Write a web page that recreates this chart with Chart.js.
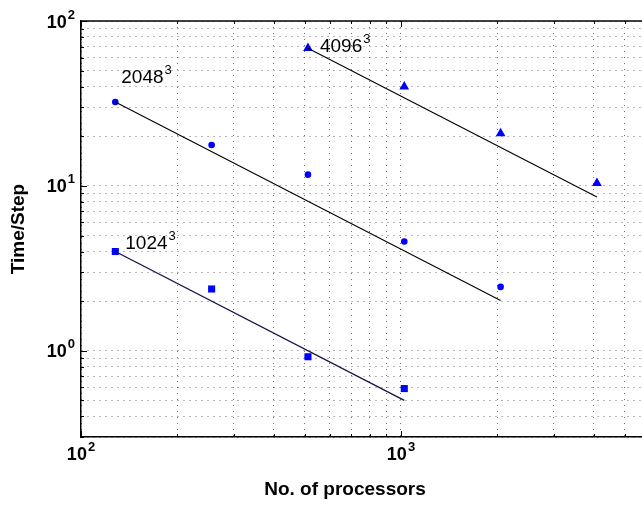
<!DOCTYPE html>
<html>
<head>
<meta charset="utf-8">
<script src="https://cdn.jsdelivr.net/npm/chart.js@4.4.1/dist/chart.umd.min.js"></script>
<style>
  html, body { margin: 0; padding: 0; background: #fff; }
  #wrap { width: 642px; height: 506px; position: relative; }
</style>
</head>
<body>
<div id="wrap"><canvas id="scaling"></canvas></div>
<script>
// processor counts per grid size
const PROCS_1024 = [128, 256, 512, 1024];
const PROCS_2048 = [128, 256, 512, 1024, 2048];
const PROCS_4096 = [512, 1024, 2048, 4096];

// measured time per step
const TIME_1024 = [4.0, 2.37, 0.92, 0.59];
const TIME_2048 = [32.3, 17.7, 11.7, 4.6, 2.44];
const TIME_4096 = [68.4, 40, 20.8, 10.4];

// ideal scaling lines (end points)
const FIT_PROCS_1024 = [128, 1024];
const FIT_TIME_1024 = [4.0, 0.5];
const FIT_PROCS_2048 = [128, 2048];
const FIT_TIME_2048 = [32.3, 2.02];
const FIT_PROCS_4096 = [512, 4096];
const FIT_TIME_4096 = [68.4, 8.55];

const GRID_NAMES = ['1024', '2048', '4096'];

const X_TICKS = [100, 1000];
const Y_TICKS = [1, 10, 100];
const X_MIN = 100, X_MAX = 5665;
const Y_MIN = 0.3, Y_MAX = 100;

const FONT = '"Liberation Sans", Arial, Helvetica, sans-serif';
const BLUE = '#0000ff';

function pts(xs, ys) {
    return xs.map((x, i) => ({ x: x, y: ys[i] }));
}

// 1..9 x 10^n between lo and hi, used for the dotted grid
function gridValues(lo, hi) {
    const out = [];
    for (let e = Math.floor(Math.log10(lo)); e <= Math.ceil(Math.log10(hi)); e++) {
        for (let m = 1; m <= 9; m++) {
            const v = m * Math.pow(10, e);
            if (v >= lo * 0.999 && v <= hi * 1.001) out.push(v);
        }
    }
    return out;
}

function supText(ctx, base, exp, x, y, align, baseFont, expFont, rise) {
    ctx.font = baseFont;
    const wb = ctx.measureText(base).width;
    ctx.font = expFont;
    const we = ctx.measureText(exp).width;
    let left = x;
    if (align === 'center') left = x - (wb + we + 1) / 2;
    else if (align === 'right') left = x - (wb + we + 1);
    ctx.textAlign = 'left';
    ctx.textBaseline = 'alphabetic';
    ctx.font = baseFont;
    ctx.fillText(base, left, y);
    ctx.font = expFont;
    ctx.fillText(exp, left + wb + 1, y - rise);
}

const decorations = {
    id: 'decorations',
    afterDraw(chart) {
        const ctx = chart.ctx;
        const xs = chart.scales.x, ys = chart.scales.y;
        const area = chart.chartArea;
        ctx.save();
        ctx.fillStyle = '#000';
        ctx.strokeStyle = '#000';

        // top frame line
        ctx.lineWidth = 1.5;
        ctx.beginPath();
        ctx.moveTo(area.left, area.top);
        ctx.lineTo(area.right, area.top);
        ctx.stroke();

        // inward tick marks
        ctx.lineWidth = 1;
        gridValues(X_MIN, X_MAX).forEach(v => {
            const px = Math.round(xs.getPixelForValue(v)) + 0.5;
            const len = X_TICKS.includes(v) ? 6 : 3;
            ctx.beginPath();
            ctx.moveTo(px, area.bottom); ctx.lineTo(px, area.bottom - len);
            ctx.moveTo(px, area.top); ctx.lineTo(px, area.top + len);
            ctx.stroke();
        });
        gridValues(Y_MIN, Y_MAX).forEach(v => {
            const py = Math.round(ys.getPixelForValue(v)) + 0.5;
            const len = Y_TICKS.includes(v) ? 6 : 3;
            ctx.beginPath();
            ctx.moveTo(area.left, py); ctx.lineTo(area.left + len, py);
            ctx.stroke();
        });

        // tick labels
        const tf = 'bold 18px ' + FONT, ef = 'bold 13px ' + FONT;
        X_TICKS.forEach(v => {
            supText(ctx, '10', String(Math.round(Math.log10(v))),
                xs.getPixelForValue(v), area.bottom + 23, 'center', tf, ef, 9);
        });
        Y_TICKS.forEach(v => {
            supText(ctx, '10', String(Math.round(Math.log10(v))),
                area.left - 6, ys.getPixelForValue(v) + 6.5, 'right', tf, ef, 9);
        });

        // axis titles
        ctx.font = 'bold 19px ' + FONT;
        ctx.textAlign = 'center';
        ctx.textBaseline = 'middle';
        ctx.fillText('No. of processors', 345, 490);
        ctx.save();
        ctx.translate(19, (area.top + area.bottom) / 2);
        ctx.rotate(-Math.PI / 2);
        ctx.fillText('Time/Step', 0, 0);
        ctx.restore();

        // grid-size annotations anchored on the first point of each series
        const af = '19px ' + FONT, aef = '13px ' + FONT;
        const anchors = [
            [PROCS_1024[0], TIME_1024[0], 10, -3],
            [PROCS_2048[0], TIME_2048[0], 6, -19],
            [PROCS_4096[0], TIME_4096[0], 12, 4]
        ];
        anchors.forEach((a, i) => {
            const px = xs.getPixelForValue(a[0]);
            const py = ys.getPixelForValue(a[1]);
            supText(ctx, GRID_NAMES[i], '3', px + a[2], py + a[3], 'left', af, aef, 9);
        });
        ctx.restore();
    }
};

const gridStyle = {
    color: 'rgba(0,0,0,0.55)',
    lineWidth: 1,
    drawTicks: false
};

new Chart(document.getElementById('scaling'), {
    type: 'scatter',
    data: {
        datasets: [
            { data: pts(FIT_PROCS_1024, FIT_TIME_1024), showLine: true, borderColor: '#14144a',
              borderWidth: 1.3, pointRadius: 0 },
            { data: pts(FIT_PROCS_2048, FIT_TIME_2048), showLine: true, borderColor: '#000',
              borderWidth: 1.1, pointRadius: 0 },
            { data: pts(FIT_PROCS_4096, FIT_TIME_4096), showLine: true, borderColor: '#000',
              borderWidth: 1.1, pointRadius: 0 },
            { data: pts(PROCS_1024, TIME_1024), pointStyle: 'rect', pointRadius: 5,
              backgroundColor: BLUE, borderColor: BLUE, borderWidth: 0 },
            { data: pts(PROCS_2048, TIME_2048), pointStyle: 'circle', pointRadius: 3.3,
              backgroundColor: BLUE, borderColor: BLUE, borderWidth: 0 },
            { data: pts(PROCS_4096, TIME_4096), pointStyle: 'triangle', pointRadius: 5.6,
              backgroundColor: BLUE, borderColor: BLUE, borderWidth: 0 }
        ]
    },
    options: {
        responsive: true,
        maintainAspectRatio: false,
        animation: false,
        layout: { autoPadding: false, padding: { left: 81, top: 21, right: 0, bottom: 69 } },
        plugins: {
            legend: { display: false },
            tooltip: { enabled: false }
        },
        scales: {
            x: {
                type: 'logarithmic',
                min: X_MIN,
                max: X_MAX,
                afterBuildTicks: s => { s.ticks = gridValues(X_MIN, X_MAX).map(v => ({ value: v })); },
                ticks: { display: false },
                grid: gridStyle,
                border: { display: true, color: '#000', width: 1.5, dash: [1, 5] }
            },
            y: {
                type: 'logarithmic',
                min: Y_MIN,
                max: Y_MAX,
                afterBuildTicks: s => { s.ticks = gridValues(Y_MIN, Y_MAX).map(v => ({ value: v })); },
                ticks: { display: false },
                grid: gridStyle,
                border: { display: true, color: '#000', width: 1.5, dash: [1, 5] }
            }
        }
    },
    plugins: [decorations]
});
</script>
</body>
</html>
